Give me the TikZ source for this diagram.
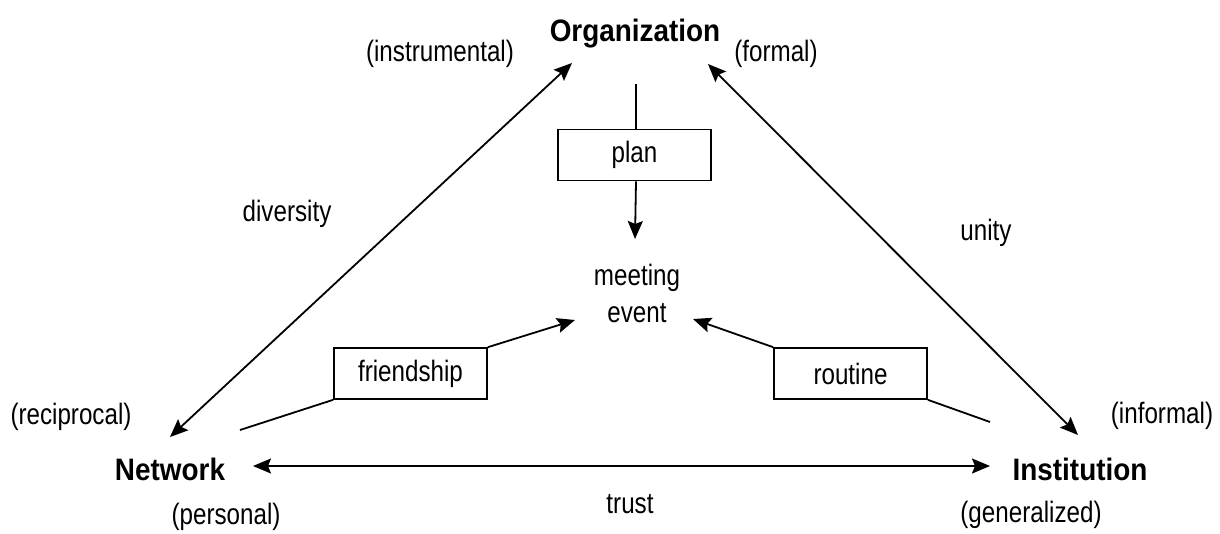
\documentclass[tikz,border=0pt]{standalone}
\usepackage{fontspec}
\setmainfont{Liberation Sans}[FakeStretch=0.82]
\newfontfamily\headfont{Liberation Sans}[FakeStretch=0.9]
\usetikzlibrary{arrows.meta}
\begin{document}
\begin{tikzpicture}[x=1pt,y=-1pt,
  lbl/.style={inner sep=0pt, anchor=base, font=\fontsize{29.5}{37}\selectfont},
  head/.style={inner sep=0pt, anchor=base, font=\headfont\bfseries\fontsize{31}{37}\selectfont},
  tagbox/.style={draw, line width=1.6pt, minimum width=153pt, minimum height=51pt,
    inner sep=0pt, font=\fontsize{29.5}{37}\selectfont},
  link/.style={line width=1.8pt},
  arr/.style={-{Stealth[length=18pt,width=15pt,inset=3pt]}},
  twoway/.style={{Stealth[length=18pt,width=15pt,inset=3pt]}-{Stealth[length=18pt,width=15pt,inset=3pt]}}
]
\useasboundingbox (0,0) rectangle (1220,533);

% corner concepts
\node[head] (org)  at (635,41)  {Organization};
\node[head] (net)  at (170,480) {Network};
\node[head] (inst) at (1080,480) {Institution};

% qualifiers
\node[lbl] (instrumental) at (440,61)  {(instrumental)};
\node[lbl] (formal)       at (776,61)  {(formal)};
\node[lbl] (reciprocal)   at (71,424)  {(reciprocal)};
\node[lbl] (informal)     at (1162,423) {(informal)};
\node[lbl] (personal)     at (226,524) {(personal)};
\node[lbl] (generalized)  at (1031,522) {(generalized)};

% edge labels
\node[lbl] (diversity) at (287,221) {diversity};
\node[lbl] (unity)     at (986,240) {unity};
\node[lbl] (trust)     at (630,513) {trust};

% centre
\node[lbl] (meeting) at (637,285)
  {\begin{tabular}[t]{@{}c@{}}meeting\\event\end{tabular}};

% mediating boxes
\node[tagbox] (plan)    at (634.5,155)   {plan};
\node[tagbox] (friend)  at (410.5,373.5) {friendship};
\node[tagbox] (routine) at (850.5,373.5) {routine};

% connector ends
\coordinate (org-sw)  at (572,63);
\coordinate (org-se)  at (708,64);
\coordinate (org-s)   at (636,84);
\coordinate (net-ne)  at (170,437);
\coordinate (net-e)   at (253,466);
\coordinate (net-src) at (240,430);
\coordinate (inst-nw) at (1078,435);
\coordinate (inst-w)  at (990,466);
\coordinate (inst-src) at (990,422);
\coordinate (meet-n)  at (635,239);
\coordinate (meet-w)  at (575,320);
\coordinate (meet-e)  at (693,319);

% triangle sides
\draw[link,twoway] (org-sw) -- (net-ne);
\draw[link,twoway] (org-se) -- (inst-nw);
\draw[link,twoway] (net-e) -- (inst-w);

% paths into the meeting event
\draw[link] (org-s) -- (org-s |- plan.north);
\draw[link,arr] (org-s |- plan.south) -- (meet-n);
\draw[link] (net-src) -- (friend.south west);
\draw[link,arr] (friend.north east) -- (meet-w);
\draw[link] (inst-src) -- (routine.south east);
\draw[link,arr] (routine.north west) -- (meet-e);
\end{tikzpicture}
\end{document}
